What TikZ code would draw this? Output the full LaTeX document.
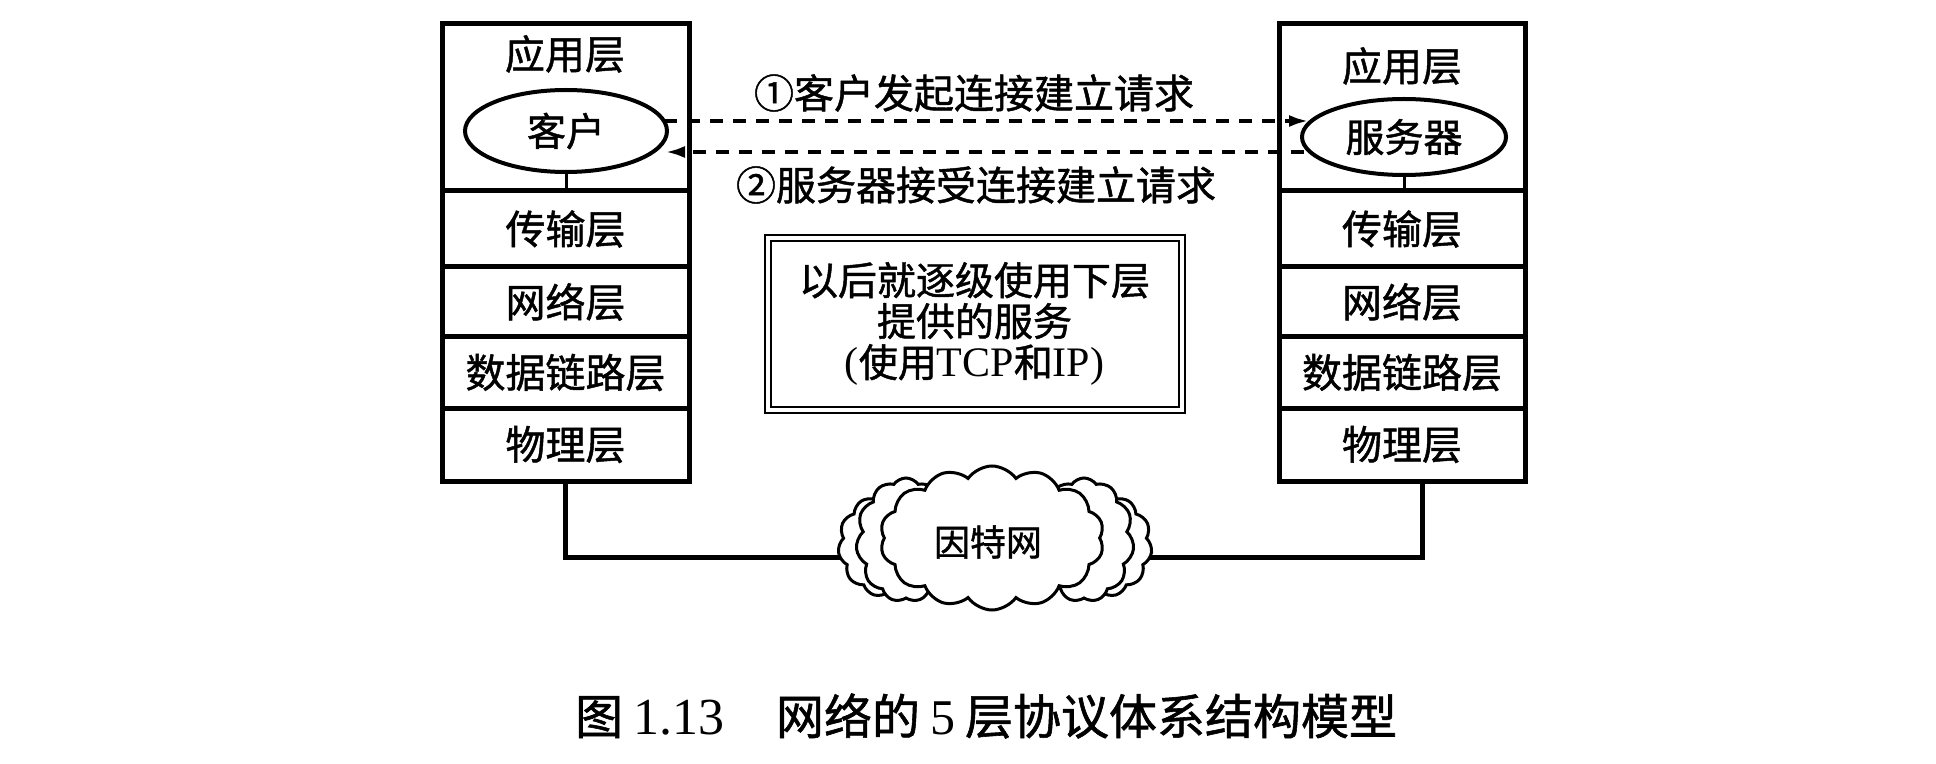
\documentclass[tikz,border=0pt]{standalone}
\usepackage{fontspec}
\setmainfont[FakeBold=1.2]{Noto Sans CJK SC}
\newfontfamily\lat{Liberation Serif}
\usetikzlibrary{shapes.geometric,shapes.symbols,arrows.meta,calc}
\begin{document}
\begin{tikzpicture}[x=0.5pt,y=-0.5pt,
  layer/.style={draw, line width=2.5pt, inner sep=0pt, font=\fontsize{20}{24}\selectfont},
  proc/.style={draw, ellipse, line width=2pt, inner sep=0pt, font=\fontsize{19.5}{23}\selectfont},
  txt/.style={inner sep=0pt, font=\fontsize{20}{24}\selectfont},
  req/.style={dash pattern=on 6.5pt off 5pt, line width=2pt, -{Latex[length=10pt,width=6pt]}},
  wire/.style={line width=2.5pt},
  puff/.style={cloud, cloud puffs=11, cloud puff arc=110, draw, fill=white, line width=1.5pt, cloud ignores aspect, inner sep=0pt},
  noteframe/.style={draw, double, double distance=2pt, line width=1pt, inner sep=0pt, align=center, font=\fontsize{19.5}{20.5}\selectfont}
]
\useasboundingbox (0,0) rectangle (1936,764);

% left stack
\node[layer, minimum width=123.5pt, minimum height=83.5pt] (app1) at (565.5,107.5) {};
\node[layer, minimum width=123.5pt, minimum height=38pt] (tr1) at (565.5,229) {传输层};
\node[layer, minimum width=123.5pt, minimum height=35pt] (nw1) at (565.5,302) {网络层};
\node[layer, minimum width=123.5pt, minimum height=35.5pt] (dl1) at (565.5,372.5) {数据链路层};
\node[layer, minimum width=123.5pt, minimum height=36.5pt] (ph1) at (565.5,444.5) {物理层};
\node[txt] (a1) at (565,54) {应用层};
\node[proc, minimum width=101pt, minimum height=41pt] (cli) at (566,131) {客户};
\draw[line width=1.5pt] (cli.south) -- (cli.south |- app1.south);

% right stack
\node[layer, minimum width=123pt, minimum height=83.5pt] (app2) at (1402,107.5) {};
\node[layer, minimum width=123pt, minimum height=38pt] (tr2) at (1402,229) {传输层};
\node[layer, minimum width=123pt, minimum height=35pt] (nw2) at (1402,302) {网络层};
\node[layer, minimum width=123pt, minimum height=35.5pt] (dl2) at (1402,372.5) {数据链路层};
\node[layer, minimum width=123pt, minimum height=36.5pt] (ph2) at (1402,444.5) {物理层};
\node[txt] (a2) at (1402,66) {应用层};
\node[proc, minimum width=102pt, minimum height=38pt] (srv) at (1404,137) {服务器};
\draw[line width=1.5pt] (srv.south) -- (srv.south |- app2.south);

% requests
\draw[req] ($(cli.center)+(98,-10)$) -- ($(srv.west)+(9,-16)$);
\draw[req] ($(srv.west)+(4,15)$) -- ($(cli.east)+(-4,21)$);
\node[txt] (m1) at (974,93) {①客户发起连接建立请求};
\node[txt] (m2) at (976,185) {②服务器接受连接建立请求};

% note box
\node[noteframe, minimum width=207pt, minimum height=86pt] (note) at (974.5,324)
  {以后就逐级使用下层\\提供的服务\\{\lat\fontsize{21}{20.5}\selectfont(}使用{\lat\fontsize{21}{20.5}\selectfont TCP}和{\lat\fontsize{21}{20.5}\selectfont IP)}};

% internet
\coordinate (cc) at (992,557);
\draw[wire] (ph1.south) |- (cc) -| ([xshift=10pt]ph2.south);
\node[puff, minimum width=50pt, minimum height=52pt] (cl1) at (888,545) {};
\node[puff, minimum width=50pt, minimum height=62pt] (cl2) at (906,540) {};
\node[puff, minimum width=50pt, minimum height=52pt] (cr1) at (1102,545) {};
\node[puff, minimum width=50pt, minimum height=62pt] (cr2) at (1084,540) {};
\node[puff, cloud puffs=14, minimum width=112pt, minimum height=72pt] (cloud) at (992,538) {};
\node[inner sep=0pt, font=\fontsize{18}{20}\selectfont] (net) at (988,542) {因特网};

% caption
\node[inner sep=0pt, font=\fontsize{24}{26}\selectfont] (cap) at (986,716)
  {图\hspace{5pt}{\lat\fontsize{26}{26}\selectfont 1.13}\hspace{26pt}网络的\hspace{5pt}{\lat\fontsize{25}{26}\selectfont 5}\hspace{5pt}层协议体系结构模型};
\end{tikzpicture}
\end{document}
